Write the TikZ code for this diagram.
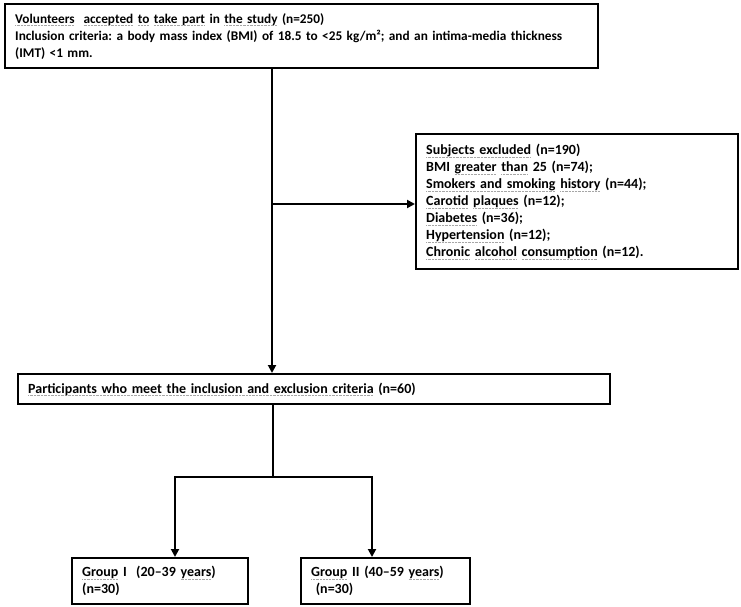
\documentclass[tikz,border=0pt]{standalone}
\usepackage{fontspec}
\setmainfont{Carlito}
\usetikzlibrary{arrows.meta, positioning}
\frenchspacing

% spell-check style underline
\newsavebox{\squigbox}
\newcommand{\squig}[1]{\sbox{\squigbox}{#1}\leavevmode\rlap{\textcolor{gray!70}{\xleaders\hbox{\rule[-2.6pt]{0.9pt}{0.6pt}\kern0.5pt}\hskip\wd\squigbox}}\usebox{\squigbox}}

\begin{document}
\begin{tikzpicture}[
    x=1pt, y=-1pt,
    font=\fontsize{14}{17}\selectfont\bfseries,
    >={Triangle[length=8pt, width=8pt]},
    box/.style={draw=black, line width=2.4pt, align=left, anchor=north west, inner xsep=10pt, inner ysep=4pt},
    arrow/.style={->, line width=1.9pt},
    link/.style={line width=1.9pt}
]
\useasboundingbox (0,0) rectangle (741,607);

% Boxes
\node[box, text width=573pt, minimum height=64pt, font=\fontsize{13.3}{17}\selectfont\bfseries] (volunteers) at (4,3)
    {\squig{Volunteers}~~\squig{accepted} \squig{to} \squig{take part} in \squig{the study} (n=250)\\
     \mbox{Inclusion criteria: a body mass index (BMI) of 18.5 to <25 kg/m²; and an intima-media thickness}\\
     (IMT) <1 mm.};
\node[box, text width=302pt, minimum height=135pt] (excluded) at (415,133)
    {\squig{Subjects excluded} (n=190)\\
     BMI \squig{greater} \squig{than} 25 (n=74);\\
     \squig{Smokers and smoking} \squig{history} (n=44);\\
     \squig{Carotid} \squig{plaques} (n=12);\\
     \squig{Diabetes} (n=36);\\
     \squig{Hypertension} (n=12);\\
     \squig{Chronic} \squig{alcohol} \squig{consumption} (n=12).};
\node[box, text width=572pt, minimum height=30pt] (participants) at (17,373)
    {\squig{Participants who meet the inclusion and exclusion criteria} (n=60)};
\node[box, text width=156pt, minimum height=46pt] (groupI) at (71,557)
    {\squig{Group} I~~(20--39 \squig{years})\\(n=30)};
\node[box, text width=149pt, minimum height=46pt] (groupII) at (300,557)
    {\squig{Group} II (40--59 \squig{years})\\~(n=30)};

% Connections
\coordinate (split) at (272,204);
\coordinate (fork) at (273,477);
\coordinate (forkL) at (175,477);
\coordinate (forkR) at (372,477);

\draw[arrow] (volunteers.south -| split) -- (participants.north -| split);
\draw[arrow] (split) -- (excluded.west |- split);

\draw[link] (participants.south -| fork) -- (fork);
\draw[arrow] (fork) -- (forkL) -- (groupI.north -| forkL);
\draw[arrow] (fork) -- (forkR) -- (groupII.north -| forkR);

\end{tikzpicture}
\end{document}
